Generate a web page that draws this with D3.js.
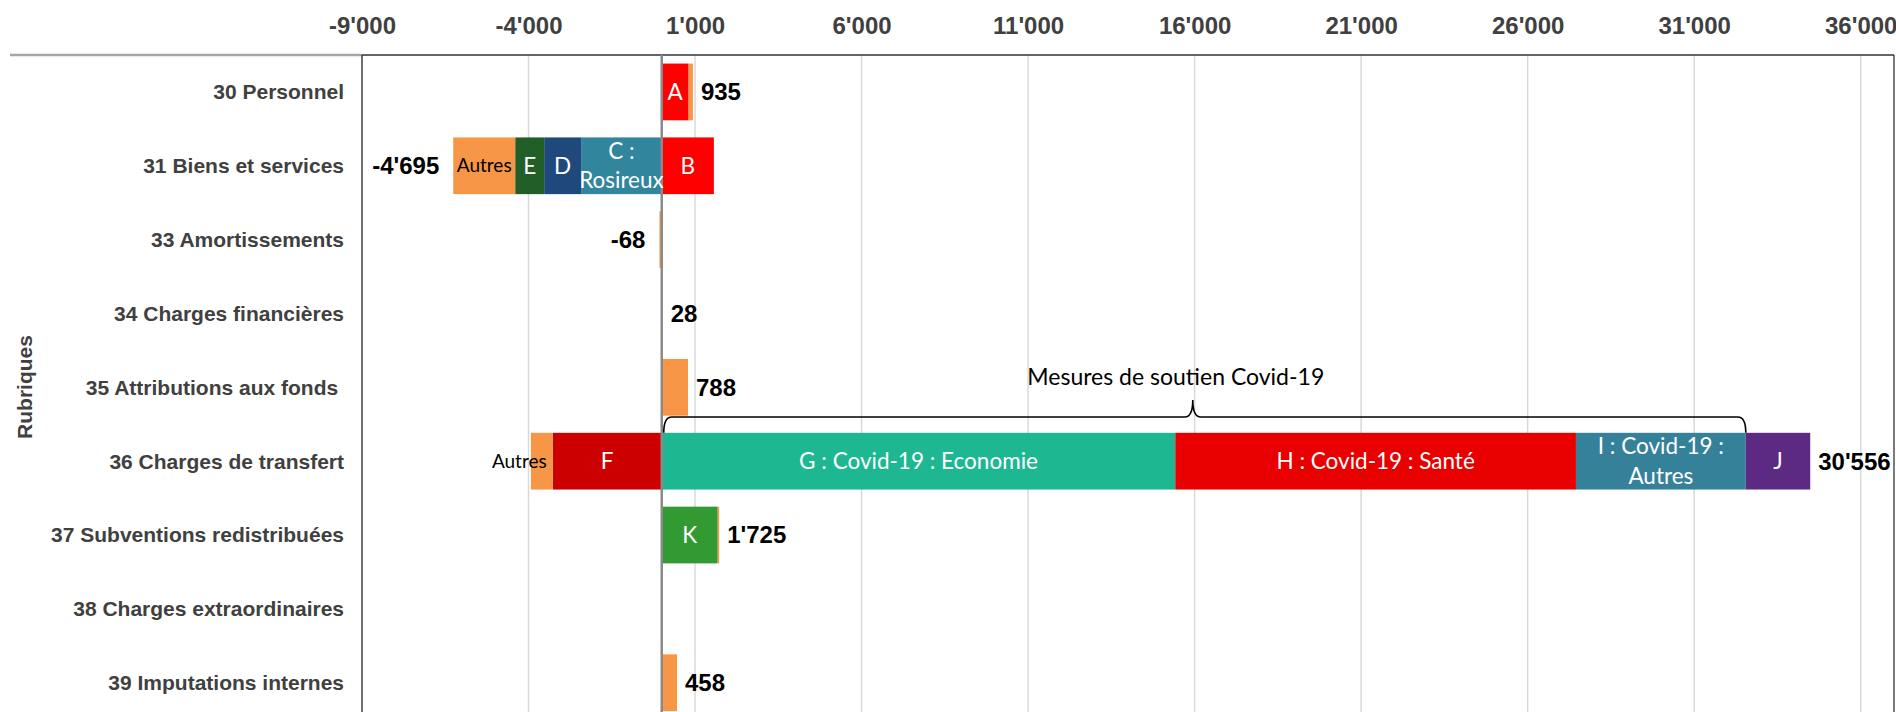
<!DOCTYPE html>
<html>
<head>
<meta charset="utf-8">
<script src="https://cdn.jsdelivr.net/npm/d3@7"></script>
<style>
body{margin:0;background:#fff;}
svg{display:block;}
</style>
</head>
<body>
<svg id="chart" width="1896" height="712"></svg>
<script>
// categories (rubriques), top to bottom
var categories = ["30 Personnel","31 Biens et services","33 Amortissements","34 Charges financières",
	"35 Attributions aux fonds ","36 Charges de transfert","37 Subventions redistribuées",
	"38 Charges extraordinaires","39 Imputations internes"];

var seriesKeys   = ["A","B","C","D","E","F","G","H","I","J","K","Autres"];
var seriesLabels = ["A","B","C : Rosireux","D","E","F","G : Covid-19 : Economie","H : Covid-19 : Santé",
	"I : Covid-19 : Autres","J","K","Autres"];
var seriesColors = ["#FF0000","#FF0000","#31859C","#1F497D","#225E27","#CC0000","#1DB792","#E80000",
	"#36819A","#5C2A82","#339933","#F79646"];

// values, one per category
var valA      = [805,0,0,0,0,0,0,0,0];
var valB      = [0,1565,0,0,0,0,0,0,0];
var valC      = [0,-2420,0,0,0,0,0,0,0];
var valD      = [0,-1110,0,0,0,0,0,0,0];
var valE      = [0,-870,0,0,0,0,0,0,0];
var valF      = [0,0,0,0,0,-3273,0,0,0];
var valG      = [0,0,0,0,0,15420,0,0,0];
var valH      = [0,0,0,0,0,12030,0,0,0];
var valI      = [0,0,0,0,0,5100,0,0,0];
var valJ      = [0,0,0,0,0,1934,0,0,0];
var valK      = [0,0,0,0,0,0,1680,0,0];
var valAutres = [130,-1860,-68,28,788,-655,45,0,458];

// rows where the "Autres" piece carries a label
var autresLabelRows = ["31 Biens et services","36 Charges de transfert"];

var xTicks = [-9000,-4000,1000,6000,11000,16000,21000,26000,31000,36000];
var xDomain = [-9000,37000];

// brace over the covid measures
var braceSeries = ["G","H","I"];
var braceText = "Mesures de soutien Covid-19";
var axisTitle = "Rubriques";

var allValues = [valA,valB,valC,valD,valE,valF,valG,valH,valI,valJ,valK,valAutres];

var table = categories.map(function(c,i){
	var row = {cat:c};
	seriesKeys.forEach(function(k,j){ row[k] = allValues[j][i]; });
	return row;
});

var fmt = d3.formatLocale({decimal:".", thousands:"'", grouping:[3], currency:["",""], minus:"-"}).format(",d");

var svg = d3.select("#chart");
var margin = {top:55, left:362, right:2};
var W = 1896, H = 712;

var x = d3.scaleLinear().domain(xDomain).range([margin.left, W - margin.right]);
var y = d3.scaleBand().domain(categories)
	.range([margin.top, margin.top + 9*73.85])
	.paddingInner(0.232).paddingOuter(0.116);

var color = d3.scaleOrdinal().domain(seriesKeys).range(seriesColors);
var labelOf = d3.scaleOrdinal().domain(seriesKeys).range(seriesLabels);

// gridlines
svg.append("g").selectAll("line").data(xTicks).enter().append("line")
	.attr("x1", function(d){ return x(d); }).attr("x2", function(d){ return x(d); })
	.attr("y1", margin.top).attr("y2", H)
	.attr("stroke", "#d9d9d9").attr("stroke-width", 1.5);

// top axis labels
var ax = svg.append("g").attr("transform","translate(0,"+margin.top+")")
	.call(d3.axisTop(x).tickValues(xTicks).tickFormat(fmt).tickSize(0).tickPadding(21));
ax.select(".domain").remove();
ax.selectAll("text")
	.attr("font-family","'Liberation Sans', Arial, sans-serif")
	.attr("font-size",24).attr("font-weight","bold").attr("fill","#404040");

// frame
svg.append("line").attr("x1",10).attr("x2",margin.left).attr("y1",margin.top).attr("y2",margin.top)
	.attr("stroke","#a6a6a6").attr("stroke-width",2.5);
svg.append("line").attr("x1",margin.left).attr("x2",W-margin.right).attr("y1",margin.top).attr("y2",margin.top)
	.attr("stroke","#333").attr("stroke-width",1.5);
svg.append("line").attr("x1",margin.left).attr("x2",margin.left).attr("y1",margin.top).attr("y2",H)
	.attr("stroke","#222").attr("stroke-width",1.2);
svg.append("line").attr("x1",W-margin.right).attr("x2",W-margin.right).attr("y1",margin.top).attr("y2",H)
	.attr("stroke","#222").attr("stroke-width",1.2);

// stacked bars
var stack = d3.stack().keys(seriesKeys).offset(d3.stackOffsetDiverging)(table);

var layers = svg.append("g").selectAll("g").data(stack).enter().append("g")
	.attr("fill", function(d){ return color(d.key); });

layers.selectAll("rect")
	.data(function(d){ return d.filter(function(p){ return p[1] !== p[0]; }); })
	.enter().append("rect")
	.attr("x", function(d){ return x(Math.min(d[0],d[1])); })
	.attr("y", function(d){ return y(d.data.cat); })
	.attr("width", function(d){ return Math.abs(x(d[1]) - x(d[0])); })
	.attr("height", y.bandwidth());

// zero line
svg.append("line").attr("x1",x(0)).attr("x2",x(0)).attr("y1",margin.top).attr("y2",H)
	.attr("stroke","#8a8a8a").attr("stroke-width",2.5);

// segment labels
var segFont = "Lato, 'Open Sans', sans-serif";
stack.forEach(function(layer){
	layer.forEach(function(p){
		if (p[1] === p[0]) return;
		var key = layer.key;
		var cat = p.data.cat;
		if (key === "Autres" && autresLabelRows.indexOf(cat) < 0) return;
		var x0 = x(Math.min(p[0],p[1])), x1 = x(Math.max(p[0],p[1]));
		var w = x1 - x0, cy = y(cat) + y.bandwidth()/2;
		var t = svg.append("text")
			.attr("font-family", segFont)
			.attr("y", cy);
		if (key === "Autres") {
			t.attr("font-size",19).attr("fill","#000");
			if (w > 50) {
				t.attr("x",(x0+x1)/2).attr("text-anchor","middle").attr("dy","0.35em").text(labelOf(key));
			} else {
				t.attr("x",x1-6).attr("text-anchor","end").attr("dy","0.35em").text(labelOf(key));
			}
			return;
		}
		t.attr("font-size",22.5).attr("fill","#fff").attr("text-anchor","middle");
		wrapLabel(t, labelOf(key), (x0+x1)/2, w - 2);
	});
});

function wrapLabel(t, label, cx, maxWidth){
	var words = label.split(" "), lines = [], line = [];
	words.forEach(function(wd){
		t.text(line.concat([wd]).join(" "));
		if (t.node().getComputedTextLength() > maxWidth && line.length){
			lines.push(line.join(" "));
			line = [wd];
		} else line.push(wd);
	});
	lines.push(line.join(" "));
	t.text(null);
	var lh = 1.3;
	lines.forEach(function(l,i){
		t.append("tspan").attr("x",cx)
			.attr("dy", (i===0 ? (0.35 - (lines.length-1)*lh/2) : lh) + "em")
			.text(l);
	});
}

// totals
table.forEach(function(row){
	var pos = 0, neg = 0;
	seriesKeys.forEach(function(k){ if (row[k] > 0) pos += row[k]; else neg += row[k]; });
	var tot = pos + neg;
	if (pos === 0 && neg === 0) return;
	var t = svg.append("text")
		.attr("y", y(row.cat) + y.bandwidth()/2)
		.attr("dy","0.35em")
		.attr("font-family","'Liberation Sans', Arial, sans-serif")
		.attr("font-size",24).attr("font-weight","bold").attr("fill","#000")
		.text(fmt(tot));
	if (tot < 0) t.attr("x", x(neg) - 14).attr("text-anchor","end");
	else t.attr("x", x(pos) + 8).attr("text-anchor","start");
});

// category labels
svg.append("g").selectAll("text").data(categories).enter().append("text")
	.attr("x", 344)
	.attr("y", function(d){ return y(d) + y.bandwidth()/2; })
	.attr("dy","0.35em")
	.attr("text-anchor","end")
	.style("white-space","pre")
	.attr("font-family","'Liberation Sans', Arial, sans-serif")
	.attr("font-size",21).attr("font-weight","bold").attr("fill","#404040")
	.text(function(d){ return d; });

svg.append("text")
	.attr("transform","translate(32,"+ (margin.top + 332) +") rotate(-90)")
	.attr("text-anchor","middle")
	.attr("font-family","'Liberation Sans', Arial, sans-serif")
	.attr("font-size",21).attr("font-weight","bold").attr("fill","#404040")
	.text(axisTitle);

// brace
var row36 = table[5];
var bStart = 0, bEnd = 0;
braceSeries.forEach(function(k){ bEnd += row36[k]; });
var bx0 = x(bStart) + 2, bx1 = x(bEnd);
var bm = (bx0 + bx1)/2 - 12;
var by = 417, byTop = 400, byBot = y(row36.cat);
svg.append("path")
	.attr("d", "M"+bx0+","+byBot+" Q"+bx0+","+by+" "+(bx0+8)+","+by
		+" L"+(bm-8)+","+by+" Q"+bm+","+by+" "+bm+","+byTop
		+" Q"+bm+","+by+" "+(bm+8)+","+by
		+" L"+(bx1-8)+","+by+" Q"+bx1+","+by+" "+bx1+","+byBot)
	.attr("fill","none").attr("stroke","#000").attr("stroke-width",1.6);

svg.append("text")
	.attr("x", bm - 17).attr("y", 385)
	.attr("text-anchor","middle")
	.attr("font-family", segFont)
	.attr("font-size",23).attr("fill","#000")
	.text(braceText);
</script>
</body>
</html>
